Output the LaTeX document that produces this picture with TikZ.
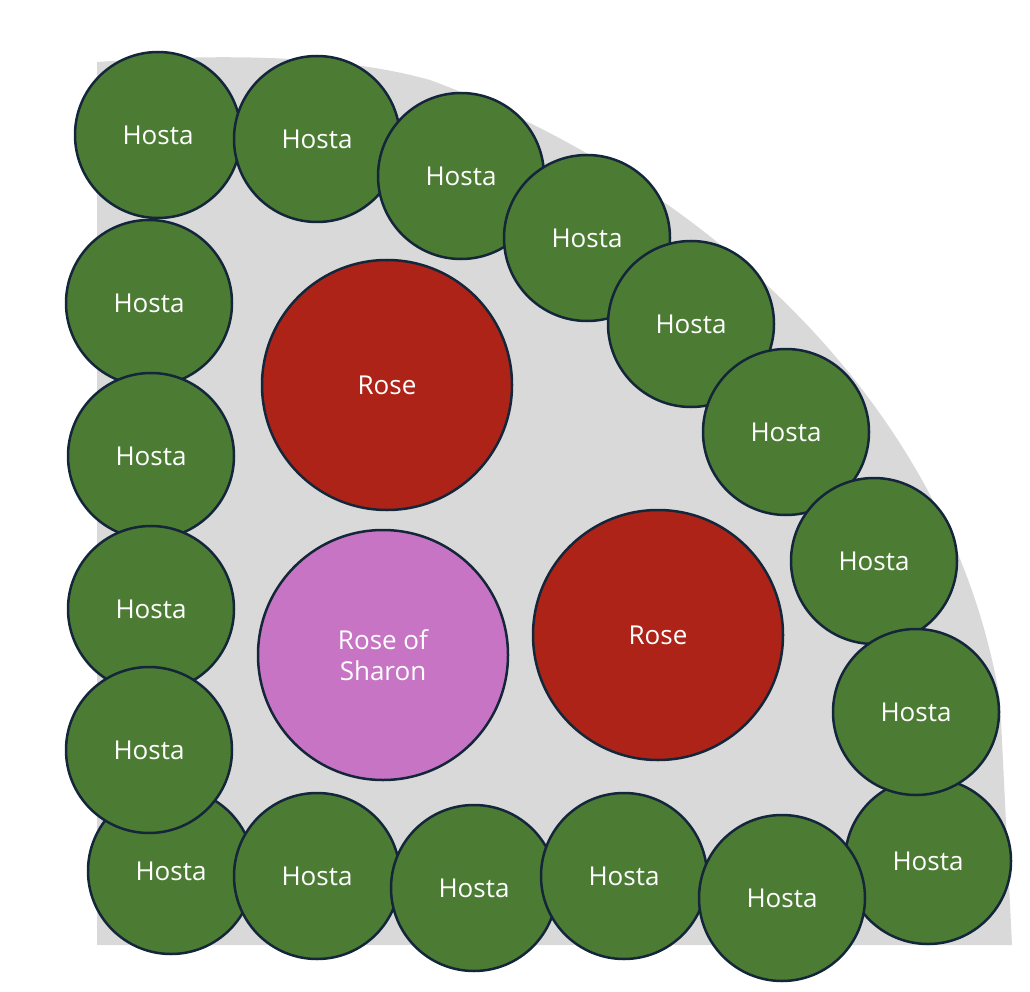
\documentclass[tikz,border=0pt]{standalone}
\usepackage{fontspec}
\setmainfont{Open Sans}
\definecolor{hosta}{HTML}{4C7C33}
\definecolor{edge}{HTML}{14263A}
\definecolor{rose}{HTML}{AE2318}
\definecolor{sharon}{HTML}{C874C4}
\definecolor{bed}{HTML}{D9D9D9}
\begin{document}
\begin{tikzpicture}[x=1pt,y=-1pt,
  plant/.style={circle,draw=edge,line width=2.5pt,text=white,font=\fontsize{26}{31}\selectfont,align=center,inner sep=0pt},
  hosta/.style={plant,fill=hosta,minimum size=166pt},
  big/.style={plant,minimum size=250pt}]
\useasboundingbox (0,0) rectangle (1030,992);
\fill[bed] (97,945) -- (97,62) .. controls (200,55) and (330,52) .. (430,80)
  .. controls (700,180) and (950,400) .. (1000,700) -- (1012,945) -- cycle;
\node[big,fill=rose] (r1) at (387,385) {Rose};
\node[big,fill=rose] (r2) at (658,635) {Rose};
\node[big,fill=sharon] (rs) at (383,655) {Rose of\\Sharon};
\foreach \n/\x/\y in {a/158/135,b/317/139,c/461/176,d/587/238,e/691/324,f/786/432,g/874/561,h/928/861,i/916/712,
  s/149/303,t/151/456,u/151/609,w/171/871,v/149/750,m/317/876,n/474/888,o/624/876,p/782/898}
  \node[hosta] (h\n) at (\x,\y) {Hosta};
\end{tikzpicture}
\end{document}
